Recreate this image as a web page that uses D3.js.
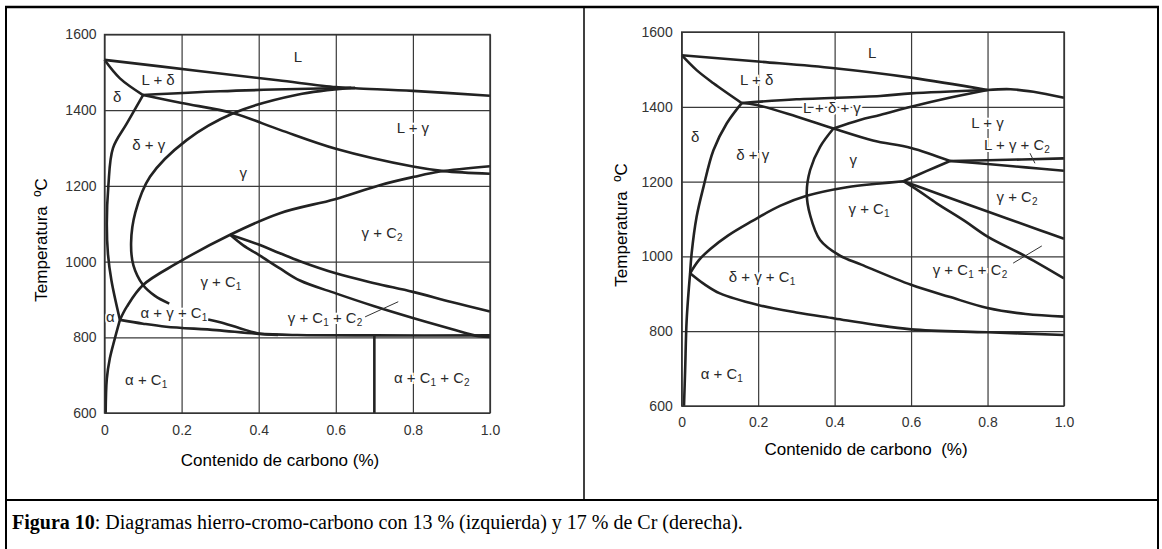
<!DOCTYPE html>
<html>
<head>
<meta charset="utf-8">
<script src="https://cdn.jsdelivr.net/npm/d3@7"></script>
<style>
  body { margin: 0; background: #fff; }
  svg { display: block; }
</style>
</head>
<body>
<div id="chart"></div>
<script>
// Axis ticks shared by both diagrams
const xTicks = [0, 0.2, 0.4, 0.6, 0.8, 1.0];
const xTickLabels = ['0', '0.2', '0.4', '0.6', '0.8', '1.0'];
const tempTicks = [600, 800, 1000, 1200, 1400, 1600];

// 13 % Cr diagram: phase boundaries as [carbon %, temperature °C]
const cr13Liquidus = [[0, 1533], [0.25, 1503], [0.45, 1479], [0.6, 1461], [0.65, 1458], [0.8, 1451], [1.0, 1438]];
const cr13Peritectic = [[0.1, 1440], [0.3, 1450], [0.5, 1456], [0.65, 1459]];
const cr13DeltaSolidus = [[0, 1533], [0.04, 1484], [0.1, 1440]];
const cr13GammaSolidus = [[0.1, 1440], [0.2, 1419], [0.334, 1392], [0.455, 1348], [0.6, 1298], [0.8, 1251], [0.88, 1239], [1.0, 1232]];
const cr13GammaDelta = [[0.64, 1459], [0.5, 1441], [0.334, 1392], [0.213, 1321], [0.118, 1224], [0.08, 1130], [0.069, 1050], [0.075, 990], [0.1, 938], [0.13, 910], [0.168, 889]];
const cr13DeltaGamma = [[0.1, 1440], [0.058, 1365], [0.022, 1300], [0.01, 1200], [0.006, 1100], [0.009, 1020], [0.018, 950], [0.04, 846]];
const cr13Alpha = [[0.04, 846], [0.025, 790], [0.014, 745], [0.006, 690], [0.003, 600]];
const cr13GammaC1 = [[0.04, 846], [0.058, 881], [0.1, 938], [0.187, 995], [0.326, 1071], [0.455, 1128], [0.598, 1165], [0.714, 1202], [0.803, 1224], [0.87, 1238], [1.0, 1252]];
const cr13C2Upper = [[0.326, 1071], [0.4, 1045], [0.455, 1022], [0.507, 1001], [0.6, 969], [0.7, 943], [0.8, 920], [0.9, 893], [1.0, 868]];
const cr13C2Lower = [[0.326, 1071], [0.36, 1043], [0.4, 1018], [0.455, 982], [0.507, 950], [0.6, 916], [0.7, 882], [0.8, 851], [0.9, 822], [0.97, 803], [1.0, 801]];
const cr13Eutectoid = [[0.04, 846], [0.1, 836], [0.16, 828], [0.29, 819], [0.4, 809], [0.5, 806], [0.7, 805], [1.0, 805]];
const cr13AlphaGammaC1 = [[0.269, 847], [0.3, 840], [0.351, 824], [0.4, 810], [0.45, 806]];
const cr13Vertical = [[0.7, 805], [0.7, 600]];
const cr13Pointer = [[0.676, 854], [0.762, 894]];

const cr13Labels = [
  ['L', 0.502, 1541], ['L + δ', 0.139, 1482], ['δ', 0.033, 1435], ['δ + γ', 0.115, 1308],
  ['γ', 0.36, 1234], ['L + γ', 0.8, 1353], ['γ + C_2', 0.72, 1076], ['γ + C_1', 0.302, 946],
  ['α + γ + C_1', 0.18, 864], ['α', 0.015, 854], ['α + C_1', 0.108, 687],
  ['γ + C_1 + C_2', 0.572, 851], ['α + C_1 + C_2', 0.849, 693]
];

// 17 % Cr diagram
const cr17Liquidus = [[0, 1538], [0.2, 1521], [0.4, 1503], [0.6, 1478], [0.8, 1445]];
const cr17LiquidusRight = [[0.8, 1445], [0.86, 1447], [0.92, 1440], [1.0, 1424]];
const cr17DeltaSolidus = [[0, 1538], [0.039, 1498], [0.083, 1463], [0.157, 1410]];
const cr17Peritectic = [[0.157, 1410], [0.3, 1420], [0.519, 1429], [0.6, 1436], [0.8, 1445]];
const cr17GammaSolidus = [[0.157, 1410], [0.196, 1405], [0.3, 1374], [0.397, 1342], [0.5, 1310], [0.6, 1290], [0.702, 1255]];
const cr17UpperGamma = [[0.397, 1342], [0.466, 1365], [0.519, 1378], [0.6, 1400], [0.7, 1424], [0.8, 1445]];
const cr17GammaDelta = [[0.397, 1342], [0.362, 1293], [0.336, 1231], [0.327, 1169], [0.336, 1110], [0.362, 1044], [0.414, 1002], [0.47, 978], [0.6, 924], [0.7, 892], [0.8, 862], [0.9, 846], [1.0, 839]];
const cr17DeltaGamma = [[0.157, 1410], [0.118, 1356], [0.083, 1284], [0.057, 1186], [0.039, 1106], [0.026, 1008], [0.022, 955]];
const cr17Alpha = [[0.022, 955], [0.013, 830], [0.009, 696], [0.006, 600]];
const cr17GammaC1 = [[0.022, 955], [0.045, 990], [0.075, 1020], [0.12, 1055], [0.18, 1092], [0.257, 1135], [0.327, 1162], [0.432, 1185], [0.519, 1195], [0.58, 1201]];
const cr17Eutectoid = [[0.022, 955], [0.06, 925], [0.1, 901], [0.2, 870], [0.3, 850], [0.4, 834], [0.5, 818], [0.6, 805], [0.8, 797], [1.0, 790]];
const cr17GammaC2 = [[0.58, 1201], [0.64, 1228], [0.702, 1255]];
const cr17LiquidusC2Upper = [[0.702, 1255], [0.8, 1257], [1.0, 1262]];
const cr17LiquidusC2Lower = [[0.702, 1255], [0.8, 1247], [0.9, 1238], [1.0, 1229]];
const cr17C2Upper = [[0.58, 1201], [0.667, 1169], [0.8, 1120], [0.937, 1070], [1.0, 1047]];
const cr17C2Lower = [[0.58, 1201], [0.62, 1175], [0.667, 1142], [0.74, 1095], [0.8, 1053], [0.9, 1000], [1.0, 941]];
const cr17Pointer1 = [[0.867, 982], [0.942, 1028]];
const cr17Pointer2 = [[0.911, 1276], [0.924, 1249]];

const cr17Labels = [
  ['L', 0.498, 1544], ['L + δ', 0.196, 1474], ['δ', 0.035, 1319], ['δ + γ', 0.186, 1271],
  ['L + δ + γ', 0.393, 1397], ['γ', 0.449, 1260], ['γ + C_1', 0.49, 1127], ['L + γ', 0.8, 1359],
  ['L + γ + C_2', 0.877, 1298], ['γ + C_2', 0.877, 1159], ['δ + γ + C_1', 0.21, 945],
  ['α + C_1', 0.105, 686], ['γ + C_1 + C_2', 0.754, 964]
];

const W = 1162, H = 549;
const sans = 'Liberation Sans, Arial, Helvetica, sans-serif';

const svg = d3.select('#chart').append('svg')
  .attr('width', W)
  .attr('height', H);

svg.append('rect').attr('width', W).attr('height', H).attr('fill', '#fff');

// Table frame around the two figures and the caption
const frame = svg.append('g').attr('stroke', '#000').attr('fill', 'none');
frame.append('line').attr('x1', 5).attr('x2', 1159).attr('y1', 7).attr('y2', 7).attr('stroke-width', 2.5);
frame.append('line').attr('x1', 6).attr('x2', 6).attr('y1', 6).attr('y2', H).attr('stroke-width', 2);
frame.append('line').attr('x1', 1158).attr('x2', 1158).attr('y1', 6).attr('y2', H).attr('stroke-width', 2);
frame.append('line').attr('x1', 584).attr('x2', 584).attr('y1', 7).attr('y2', 500).attr('stroke-width', 1.5);
frame.append('line').attr('x1', 6).attr('x2', 1158).attr('y1', 500).attr('y2', 500).attr('stroke-width', 1.8);

function addLabel(g, str, px, py) {
  const t = g.append('text')
    .attr('x', px)
    .attr('y', py)
    .attr('dy', '0.36em')
    .attr('text-anchor', 'middle')
    .attr('font-family', sans)
    .attr('font-size', 15)
    .attr('fill', '#2a2a2a')
    .attr('stroke', '#fff')
    .attr('stroke-width', 4)
    .attr('paint-order', 'stroke')
    .style('white-space', 'pre');
  // "_n" marks a subscript digit
  const parts = str.split(/_(\d)/);
  parts.forEach((p, i) => {
    if (i % 2 === 0) {
      if (p) t.append('tspan').attr('dy', i > 0 ? -3 : null).text(p);
    } else {
      t.append('tspan').attr('font-size', 10).attr('dy', 3).text(p);
    }
  });
}

function drawDiagram(o) {
  const g = svg.append('g');
  const x = d3.scaleLinear().domain([0, 1]).range([o.x0, o.x1]);
  const y = d3.scaleLinear().domain([600, 1600]).range([o.y0, o.y1]);

  // Grid
  g.append('g')
    .attr('transform', `translate(0,${o.y0})`)
    .call(d3.axisBottom(x).tickValues(xTicks).tickSize(-(o.y0 - o.y1)).tickFormat(''))
    .call(s => s.select('.domain').remove())
    .selectAll('line').attr('stroke', '#3a3a3a').attr('stroke-width', 1.2);
  g.append('g')
    .attr('transform', `translate(${o.x0},0)`)
    .call(d3.axisLeft(y).tickValues(tempTicks).tickSize(-(o.x1 - o.x0)).tickFormat(''))
    .call(s => s.select('.domain').remove())
    .selectAll('line').attr('stroke', '#3a3a3a').attr('stroke-width', 1.2);

  // Tick labels
  const xa = g.append('g')
    .attr('transform', `translate(0,${o.y0})`)
    .call(d3.axisBottom(x).tickValues(xTicks).tickSize(0).tickPadding(o.xPad)
      .tickFormat(d => xTickLabels[xTicks.indexOf(d)]));
  xa.select('.domain').remove();
  xa.selectAll('text').attr('font-family', sans).attr('font-size', 14).attr('fill', '#333');

  const ya = g.append('g')
    .attr('transform', `translate(${o.x0},0)`)
    .call(d3.axisLeft(y).tickValues(tempTicks).tickSize(0).tickPadding(o.yPad).tickFormat(d3.format('d')));
  ya.select('.domain').remove();
  ya.selectAll('text').attr('font-family', sans).attr('font-size', 14).attr('fill', '#333');

  // Region labels (white halo breaks the grid like in the printed figure)
  const lab = g.append('g');
  o.labels.forEach(d => addLabel(lab, d[0], x(d[1]), y(d[2])));

  // Phase boundaries
  const line = d3.line()
    .x(d => x(d[0]))
    .y(d => y(d[1]))
    .curve(d3.curveCatmullRom.alpha(0.5));

  g.append('g').selectAll('path')
    .data(o.curves)
    .join('path')
    .attr('d', line)
    .attr('fill', 'none')
    .attr('stroke', '#222')
    .attr('stroke-width', 2.6)
    .attr('stroke-linejoin', 'round');

  g.append('g').selectAll('path')
    .data(o.pointers)
    .join('path')
    .attr('d', line)
    .attr('fill', 'none')
    .attr('stroke', '#333')
    .attr('stroke-width', 1);

  // Plot frame
  g.append('rect')
    .attr('x', o.x0).attr('y', o.y1)
    .attr('width', o.x1 - o.x0).attr('height', o.y0 - o.y1)
    .attr('fill', 'none').attr('stroke', '#333').attr('stroke-width', 1.4);

  // Axis titles
  g.append('text')
    .attr('x', o.xtX).attr('y', o.xtY)
    .attr('text-anchor', 'middle')
    .attr('font-family', sans).attr('font-size', 17)
    .style('white-space', 'pre')
    .text(o.xTitle);
  g.append('text')
    .attr('transform', `translate(${o.ytX},${o.ytY}) rotate(-90)`)
    .attr('text-anchor', 'middle')
    .attr('font-family', sans).attr('font-size', 17)
    .style('white-space', 'pre')
    .text('Temperatura  ºC');
}

drawDiagram({
  x0: 104.5, x1: 490, y0: 413, y1: 34.5, xPad: 12, yPad: 8,
  curves: [cr13Liquidus, cr13Peritectic, cr13DeltaSolidus, cr13GammaSolidus, cr13GammaDelta,
    cr13DeltaGamma, cr13Alpha, cr13GammaC1, cr13C2Upper, cr13C2Lower, cr13Eutectoid,
    cr13AlphaGammaC1, cr13Vertical],
  pointers: [cr13Pointer],
  labels: cr13Labels,
  xTitle: 'Contenido de carbono (%)', xtX: 280, xtY: 466,
  ytX: 47, ytY: 240
});

drawDiagram({
  x0: 681.7, x1: 1064, y0: 406, y1: 32, xPad: 11, yPad: 9,
  curves: [cr17Liquidus, cr17LiquidusRight, cr17DeltaSolidus, cr17Peritectic, cr17GammaSolidus,
    cr17UpperGamma, cr17GammaDelta, cr17DeltaGamma, cr17Alpha, cr17GammaC1, cr17Eutectoid,
    cr17GammaC2, cr17LiquidusC2Upper, cr17LiquidusC2Lower, cr17C2Upper, cr17C2Lower],
  pointers: [cr17Pointer1, cr17Pointer2],
  labels: cr17Labels,
  xTitle: 'Contenido de carbono  (%)', xtX: 866, xtY: 455,
  ytX: 627, ytY: 225
});

// Caption
const cap = svg.append('text')
  .attr('x', 12).attr('y', 529)
  .attr('font-family', 'Liberation Serif, Times New Roman, serif')
  .attr('font-size', 20)
  .attr('fill', '#000');
cap.append('tspan').attr('font-weight', 'bold').text('Figura 10');
cap.append('tspan').text(': Diagramas hierro-cromo-carbono con 13 % (izquierda) y 17 % de Cr (derecha).');
</script>
</body>
</html>
